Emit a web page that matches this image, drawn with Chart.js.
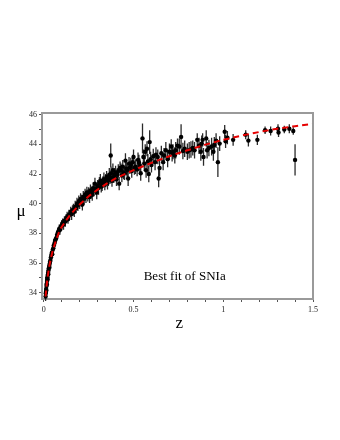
<!DOCTYPE html>
<html>
<head>
<meta charset="utf-8">
<script src="https://cdn.jsdelivr.net/npm/chart.js@4.4.0/dist/chart.umd.min.js"></script>
<style>
  html, body { margin: 0; padding: 0; background: #fff; }
  canvas { display: block; }
</style>
</head>
<body>
<canvas id="snChart" width="340" height="440"></canvas>
<script>
// supernova redshifts, distance moduli and 1-sigma errors
const zVals = [
  0.010, 0.011, 0.012, 0.013, 0.014, 0.015, 0.016, 0.017, 0.018, 0.019,
  0.020, 0.021, 0.022, 0.024, 0.025, 0.026, 0.028, 0.030, 0.031, 0.033,
  0.035, 0.037, 0.040, 0.042, 0.045, 0.047, 0.050, 0.053, 0.056, 0.060,
  0.063, 0.066, 0.070, 0.074, 0.078, 0.082, 0.086, 0.090, 0.095, 0.100,
  0.105, 0.110, 0.115, 0.120, 0.125, 0.130, 0.135, 0.140, 0.145, 0.150,
  0.155, 0.160, 0.165, 0.170, 0.175, 0.180, 0.185, 0.190, 0.195, 0.200,
  0.205, 0.210, 0.215, 0.220, 0.225, 0.230, 0.235, 0.240, 0.245, 0.250,
  0.255, 0.260, 0.265, 0.270, 0.275, 0.280, 0.285, 0.290, 0.295, 0.300,
  0.305, 0.310, 0.315, 0.320, 0.325, 0.330, 0.335, 0.340, 0.345, 0.350,
  0.355, 0.360, 0.365, 0.370, 0.373, 0.375, 0.380, 0.385, 0.390, 0.395,
  0.400, 0.405, 0.410, 0.415, 0.420, 0.425, 0.430, 0.435, 0.440, 0.445,
  0.450, 0.455, 0.460, 0.465, 0.470, 0.475, 0.480, 0.485, 0.490, 0.495,
  0.500, 0.505, 0.510, 0.520, 0.525, 0.530, 0.535, 0.540, 0.550, 0.555,
  0.560, 0.565, 0.570, 0.575, 0.580, 0.585, 0.590, 0.595, 0.600, 0.610,
  0.620, 0.625, 0.635, 0.640, 0.645, 0.655, 0.665, 0.670, 0.680, 0.690,
  0.700, 0.710, 0.715, 0.720, 0.730, 0.735, 0.745, 0.755, 0.765, 0.775,
  0.785, 0.800, 0.810, 0.820, 0.830, 0.840, 0.855, 0.865, 0.875, 0.880,
  0.885, 0.890, 0.905, 0.910, 0.920, 0.935, 0.945, 0.950, 0.960, 0.970,
  0.980, 1.008, 1.013, 1.023, 1.055, 1.125, 1.140, 1.190, 1.233, 1.264,
  1.305, 1.308, 1.340, 1.368, 1.390, 1.400
];
const muVals = [
  33.75, 33.95, 34.05, 34.25, 34.15, 34.45, 34.60, 34.55, 34.80, 34.95,
  35.05, 34.90, 35.20, 35.35, 35.25, 35.50, 35.65, 35.80, 35.70, 35.95,
  36.10, 36.20, 36.40, 36.55, 36.70, 36.60, 36.90, 37.00, 37.20, 37.35,
  37.50, 37.60, 37.70, 37.90, 38.05, 38.15, 38.30, 38.25, 38.45, 38.55,
  38.70, 38.60, 38.85, 38.80, 39.00, 39.10, 38.95, 39.25, 39.30, 39.45,
  39.30, 39.55, 39.60, 39.45, 39.80, 39.70, 40.00, 39.90, 40.15, 40.05,
  40.30, 40.20, 39.95, 40.45, 40.35, 40.60, 40.45, 40.75, 40.55, 40.70,
  40.45, 40.90, 40.75, 40.60, 41.05, 40.90, 41.35, 41.00, 40.75, 41.20,
  41.05, 41.40, 41.55, 41.15, 41.30, 41.45, 41.65, 41.30, 41.55, 41.80,
  41.40, 41.60, 41.95, 41.75, 43.25, 42.05, 41.55, 42.25, 41.80, 41.95,
  42.10, 41.65, 41.95, 42.20, 41.35, 42.40, 42.25, 41.90, 42.50, 42.10,
  42.05, 42.90, 42.35, 42.25, 41.70, 42.70, 42.45, 42.60, 42.20, 42.80,
  43.15, 42.40, 42.50, 42.30, 42.95, 42.80, 42.60, 42.05, 44.40, 43.15,
  42.70, 43.50, 42.25, 43.70, 42.85, 42.00, 44.15, 43.00, 42.60, 43.20,
  42.80, 43.30, 43.15, 41.70, 42.40, 43.40, 42.80, 43.25, 43.60, 43.00,
  43.50, 43.85, 43.40, 43.50, 43.25, 43.60, 43.90, 43.85, 44.50, 43.55,
  43.70, 43.50, 43.60, 43.65, 43.75, 43.60, 44.30, 43.90, 43.50, 44.05,
  44.30, 43.15, 44.40, 43.60, 43.75, 43.85, 43.50, 43.95, 44.25, 42.80,
  44.05, 44.85, 44.20, 44.45, 44.30, 44.65, 44.25, 44.30, 44.95, 44.90,
  45.05, 44.80, 45.00, 45.05, 44.90, 42.95
];
const muErr = [
  0.30, 0.25, 0.30, 0.25, 0.30, 0.25, 0.30, 0.25, 0.30, 0.25,
  0.30, 0.25, 0.30, 0.25, 0.30, 0.25, 0.30, 0.25, 0.30, 0.25,
  0.30, 0.25, 0.30, 0.25, 0.30, 0.25, 0.30, 0.25, 0.30, 0.30,
  0.25, 0.30, 0.30, 0.30, 0.30, 0.30, 0.30, 0.35, 0.30, 0.35,
  0.30, 0.35, 0.30, 0.35, 0.30, 0.35, 0.30, 0.35, 0.30, 0.35,
  0.40, 0.35, 0.40, 0.35, 0.40, 0.35, 0.40, 0.40, 0.40, 0.40,
  0.40, 0.40, 0.40, 0.40, 0.40, 0.40, 0.40, 0.40, 0.40, 0.40,
  0.40, 0.40, 0.40, 0.40, 0.40, 0.40, 0.40, 0.40, 0.45, 0.40,
  0.45, 0.40, 0.45, 0.40, 0.45, 0.40, 0.45, 0.40, 0.45, 0.40,
  0.45, 0.40, 0.45, 0.40, 0.80, 0.45, 0.40, 0.45, 0.40, 0.45,
  0.45, 0.45, 0.45, 0.45, 0.45, 0.45, 0.45, 0.45, 0.45, 0.45,
  0.45, 0.50, 0.45, 0.45, 0.50, 0.45, 0.45, 0.50, 0.45, 0.50,
  0.50, 0.45, 0.50, 0.45, 0.50, 0.50, 0.45, 0.50, 1.00, 0.50,
  0.50, 0.50, 0.50, 0.50, 0.50, 0.55, 0.80, 0.50, 0.50, 0.50,
  0.55, 0.50, 0.50, 0.60, 0.55, 0.50, 0.55, 0.50, 0.55, 0.55,
  0.55, 0.50, 0.55, 0.50, 0.55, 0.55, 0.50, 0.55, 0.85, 0.55,
  0.55, 0.55, 0.55, 0.55, 0.50, 0.55, 0.45, 0.55, 0.60, 0.55,
  0.45, 0.60, 0.55, 0.55, 0.55, 0.60, 0.60, 0.55, 0.50, 1.00,
  0.50, 0.45, 0.45, 0.45, 0.40, 0.30, 0.40, 0.35, 0.25, 0.30,
  0.30, 0.30, 0.25, 0.30, 0.25, 1.05
];

// best-fit curve, sampled along the red dashed line
const fitZ  = [0.01, 0.015, 0.02, 0.03, 0.04, 0.05, 0.07, 0.09, 0.12, 0.15,
               0.2, 0.25, 0.3, 0.35, 0.4, 0.5, 0.6, 0.7, 0.8, 0.9,
               1.0, 1.1, 1.2, 1.3, 1.4, 1.5];
const fitMu = [33.75, 34.4, 34.95, 35.75, 36.35, 36.85, 37.6, 38.25, 38.8, 39.3,
               39.95, 40.5, 40.95, 41.35, 41.7, 42.26, 42.75, 43.2, 43.6, 43.98,
               44.3, 44.58, 44.83, 45.05, 45.22, 45.37];

const xLabels = ['0', '0.5', '1', '1.5'];
const yLabels = ['34', '36', '38', '40', '42', '44', '46'];

const serif = '"Liberation Serif", "DejaVu Serif", serif';
const axisGray = '#9a9a9a';

const points = zVals.map((z, i) => ({x: z, y: muVals[i], e: muErr[i]}));
const fitLine = fitZ.map((z, i) => ({x: z, y: fitMu[i]}));

const near = (v, s) => Math.abs(v - s) < 1e-6;

const extras = {
  id: 'extras',
  beforeDatasetsDraw(chart) {
    const {ctx, scales: {x, y}} = chart;
    ctx.save();
    ctx.strokeStyle = '#2a2a2a';
    ctx.lineWidth = 1.3;
    ctx.beginPath();
    points.forEach(p => {
      const px = x.getPixelForValue(p.x);
      ctx.moveTo(px, y.getPixelForValue(p.y + p.e));
      ctx.lineTo(px, y.getPixelForValue(p.y - p.e));
    });
    ctx.stroke();
    ctx.restore();
  },
  afterDraw(chart) {
    const {ctx, chartArea: a, scales: {x, y}} = chart;
    ctx.save();
    // top and right frame
    ctx.strokeStyle = axisGray;
    ctx.lineWidth = 2;
    ctx.beginPath();
    ctx.moveTo(a.left, a.top);
    ctx.lineTo(a.right, a.top);
    ctx.lineTo(a.right, a.bottom);
    ctx.stroke();
    // axis titles and annotation
    ctx.fillStyle = '#000';
    ctx.textBaseline = 'alphabetic';
    ctx.textAlign = 'center';
    ctx.font = '17px ' + serif;
    ctx.fillText('μ', 21, 216);
    ctx.fillText('z', x.getPixelForValue(0.755), 328);
    ctx.font = '13px ' + serif;
    ctx.fillText('Best fit of SNIa', x.getPixelForValue(0.785), y.getPixelForValue(34.86));
    ctx.restore();
  }
};

new Chart(document.getElementById('snChart'), {
  type: 'scatter',
  data: {
    datasets: [
      {
        label: 'best fit',
        data: fitLine,
        showLine: true,
        borderColor: '#e60000',
        borderWidth: 2,
        borderDash: [6, 4],
        pointRadius: 0,
        fill: false,
        order: 0
      },
      {
        label: 'SNIa',
        data: points,
        backgroundColor: '#000',
        borderColor: '#000',
        borderWidth: 0,
        pointRadius: 2.2,
        order: 1
      }
    ]
  },
  options: {
    responsive: false,
    animation: false,
    layout: {padding: {left: 0, right: 27, top: 113, bottom: 111}},
    plugins: {legend: {display: false}, tooltip: {enabled: false}},
    scales: {
      x: {
        type: 'linear',
        min: -0.01,
        max: 1.5,
        afterFit: s => { s.height = 30; },
        border: {color: axisGray, width: 2},
        grid: {drawOnChartArea: false, drawTicks: true, tickLength: 3, tickColor: '#555'},
        ticks: {
          stepSize: 0.1,
          includeBounds: false,
          autoSkip: false,
          maxRotation: 0,
          padding: 3,
          color: '#222',
          font: {family: serif, size: 8},
          callback: v => {
            const i = xLabels.findIndex(l => near(v, parseFloat(l)));
            return i >= 0 ? xLabels[i] : '';
          }
        }
      },
      y: {
        type: 'linear',
        min: 33.58,
        max: 46.11,
        afterFit: s => { s.width = 42; },
        border: {color: axisGray, width: 2},
        grid: {drawOnChartArea: false, drawTicks: true, tickLength: 3, tickColor: '#555'},
        ticks: {
          stepSize: 1,
          includeBounds: false,
          autoSkip: false,
          padding: 2,
          color: '#222',
          font: {family: serif, size: 8},
          callback: v => {
            const i = yLabels.findIndex(l => near(v, parseFloat(l)));
            return i >= 0 ? yLabels[i] : '';
          }
        }
      }
    }
  },
  plugins: [extras]
});
</script>
</body>
</html>
